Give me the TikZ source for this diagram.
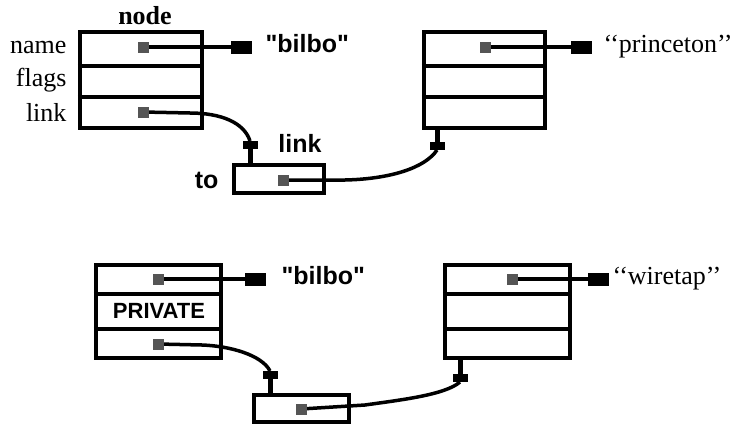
\documentclass[tikz,border=0pt]{standalone}
\usepackage{fontspec}
\setmainfont{Liberation Serif}
\newfontfamily\pixfont{Liberation Sans}
\usetikzlibrary{arrows.meta}
\definecolor{dotgrey}{HTML}{555555}
\tikzset{
  rec/.style={draw, line width=4.5pt, rectangle, inner sep=0pt},
  divline/.style={line width=3.5pt},
  ptrdot/.style={fill=dotgrey, minimum size=11pt, inner sep=0pt, rectangle},
  conn/.style={line width=3.5pt},
  ptr/.style={conn, -{Rectangle[length=21pt,width=13pt]}},
  stem/.style={line width=5pt, {Rectangle[length=8pt,width=15pt]}-},
  serif/.style={font=\fontsize{26}{30}\selectfont},
  pix/.style={font=\pixfont\bfseries\fontsize{25}{29}\selectfont},
}
\begin{document}
\begin{tikzpicture}[x=1pt,y=-1pt]
\useasboundingbox (0,0) rectangle (739,426);
% ---- top half ----
\node[rec, minimum width=122pt, minimum height=96pt] (r1) at (141,80) {};
\draw[divline] (r1.west |- 0,66) -- (r1.east |- 0,66);
\draw[divline] (r1.west |- 0,97) -- (r1.east |- 0,97);
\node[font=\bfseries\fontsize{26}{30}\selectfont] (tnode) at (145,16) {node};
\node[serif, anchor=east] (tname) at (70,47) {name};
\node[serif, anchor=east] (tflags) at (70,80) {flags};
\node[serif, anchor=east] (tlink) at (70,112) {link};

\node[rec, minimum width=121pt, minimum height=96pt] (r2) at (484.5,80) {};
\draw[divline] (r2.west |- 0,66) -- (r2.east |- 0,66);
\draw[divline] (r2.west |- 0,97) -- (r2.east |- 0,97);

\node[rec, minimum width=90pt, minimum height=28pt] (sb1) at (279,179) {};
\node[pix] (tlink2) at (300,143) {link};
\node[pix, anchor=east] (tto) at (222,180) {to};

\node[pix, anchor=west] (bilbo1) at (262,44) {"bilbo"};
\node[serif, anchor=west] (princeton) at (600,47) {`{}`princeton'{}'};

\node[ptrdot] (d1n) at (143,47) {};
\node[ptrdot] (d1l) at (143,112) {};
\node[ptrdot] (d2n) at (485,47) {};
\node[ptrdot] (ds1) at (283,180) {};

\coordinate (c1) at (250,141);
\coordinate (c2) at (437,150);

\draw[ptr, shorten >=10pt] (d1n.center) -- (bilbo1.west |- d1n);
\draw[ptr, shorten >=8pt] (d2n.center) -- (princeton.west |- d2n);
\draw[conn] (d1l.center) -- (190,113) .. controls (220,113) and (244,122) .. (c1);
\draw[stem] (c1) -- (c1 |- sb1.north);
\draw[conn] (ds1.center) -- (345,180) .. controls (390,179) and (425,168) .. (c2);
\draw[stem] (c2) -- (c2 |- r2.south);
\node[ptrdot] at (d1n) {};
\node[ptrdot] at (d1l) {};
\node[ptrdot] at (d2n) {};
\node[ptrdot] at (ds1) {};

% ---- bottom half ----
\node[rec, minimum width=125pt, minimum height=93pt] (r3) at (158.5,311.5) {};
\draw[divline] (r3.west |- 0,294) -- (r3.east |- 0,294);
\draw[divline] (r3.west |- 0,329) -- (r3.east |- 0,329);
\node[font=\pixfont\bfseries\fontsize{22}{26}\selectfont] (priv) at (159,311) {PRIVATE};

\node[rec, minimum width=125pt, minimum height=93pt] (r4) at (507.5,311.5) {};
\draw[divline] (r4.west |- 0,294) -- (r4.east |- 0,294);
\draw[divline] (r4.west |- 0,329) -- (r4.east |- 0,329);

\node[rec, minimum width=95pt, minimum height=27pt] (sb2) at (301.5,408.5) {};

\node[pix, anchor=west] (bilbo2) at (278,276) {"bilbo"};
\node[serif, anchor=west] (wiretap) at (609,279) {`{}`wiretap'{}'};

\node[ptrdot] (d3n) at (158,279) {};
\node[ptrdot] (d3l) at (158,344) {};
\node[ptrdot] (d4n) at (512,279) {};
\node[ptrdot] (ds2) at (301,409) {};

\coordinate (c3) at (270,371);
\coordinate (c4) at (460,382);

\draw[ptr, shorten >=12pt] (d3n.center) -- (bilbo2.west |- d3n);
\draw[ptr, shorten >=0pt] (d4n.center) -- (wiretap.west |- d4n);
\draw[conn] (d3l.center) -- (202,345) .. controls (230,346) and (262,355) .. (c3);
\draw[stem] (c3) -- (c3 |- sb2.north);
\draw[conn] (ds2.center) -- (365,405) .. controls (400,400) and (445,395) .. (c4);
\draw[stem] (c4) -- (c4 |- r4.south);
\node[ptrdot] at (d3n) {};
\node[ptrdot] at (d3l) {};
\node[ptrdot] at (d4n) {};
\node[ptrdot] at (ds2) {};
\end{tikzpicture}
\end{document}
